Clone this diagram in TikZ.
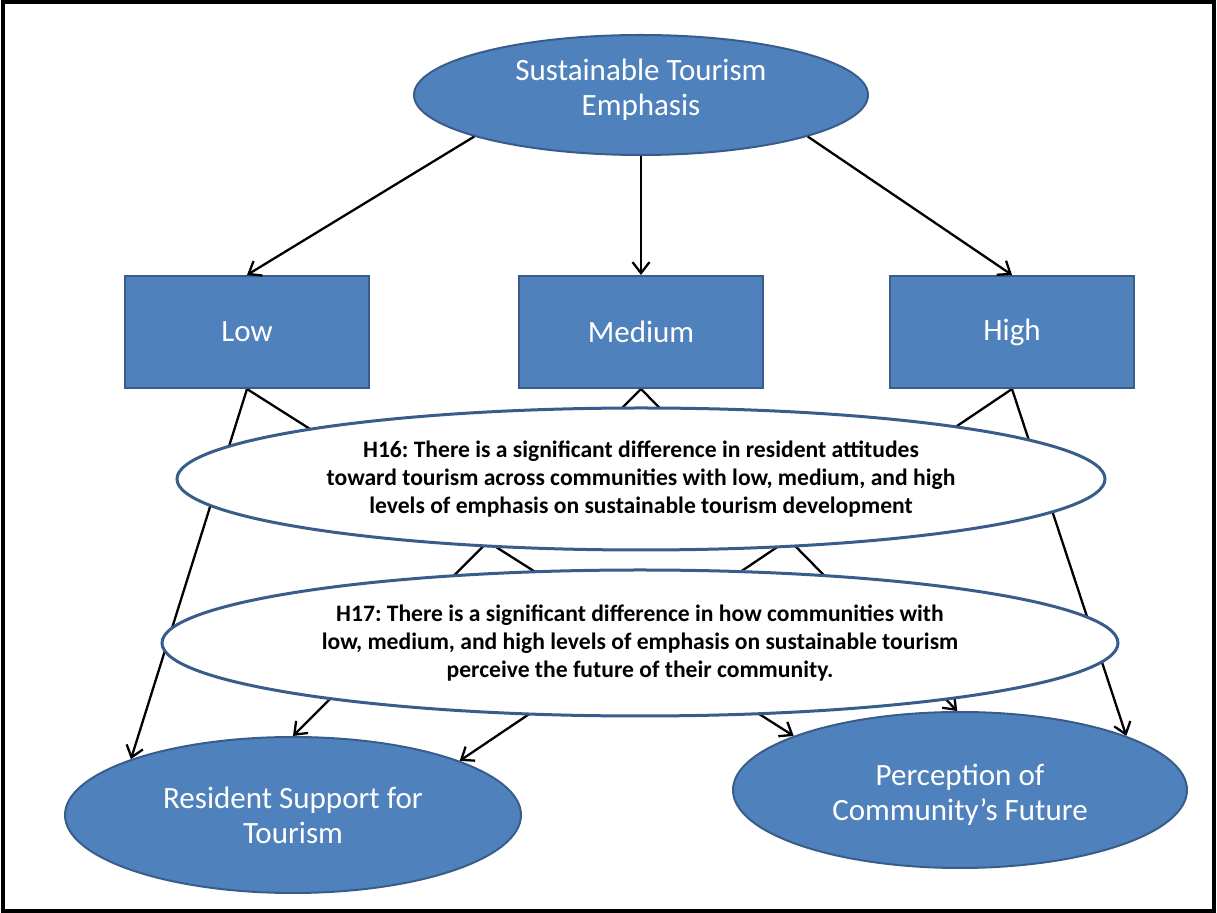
\documentclass[tikz,border=0pt]{standalone}
\usepackage{fontspec}
\setmainfont{Carlito}
\usetikzlibrary{shapes.geometric,arrows.meta}
\pgfdeclarelayer{back}
\pgfsetlayers{back,main}
\definecolor{accent}{RGB}{79,129,189}
\definecolor{accentdark}{RGB}{56,93,138}
\frenchspacing
\begin{document}
\begin{tikzpicture}[x=0.5pt,y=-0.5pt,
  bluetext/.style={text=white,align=center,font=\fontsize{15.5}{17.5}\selectfont},
  blueoval/.style={ellipse,draw=accentdark,line width=1pt,fill=accent,
    inner sep=0pt,bluetext},
  bluebox/.style={rectangle,draw=accentdark,line width=1pt,fill=accent,
    inner sep=0pt,minimum width=122pt,minimum height=56pt,bluetext},
  hypo/.style={ellipse,draw=accentdark,line width=1.5pt,fill=white,text=black,
    inner sep=0pt,align=center,font=\bfseries\fontsize{11.8}{14}\selectfont},
  link/.style={draw=black,line width=1.15pt},
  arr/.style={link,-{Straight Barb[length=5.5pt,width=8.5pt]}}
]
\useasboundingbox (0,0) rectangle (1217,913);
\draw[line width=1.6pt] (3,2) rectangle (1214,911);

% emphasis level
\node[blueoval,minimum width=227pt,minimum height=60pt] (top) at (641,95) {};
\node[bluetext] (toptext) at (641,90) {Sustainable Tourism\\Emphasis};
\node[bluebox] (low) at (247,332) {Low};
\node[bluebox] (med) at (641,332) {Medium};
\node[bluebox] (high) at (1012,332) {High};

% outcomes
\node[blueoval,minimum width=228pt,minimum height=78pt] (res) at (293,815)
  {Resident Support for\\Tourism};
\node[blueoval,minimum width=227pt,minimum height=78pt] (fut) at (960,790) {};
\node[bluetext] (futtext) at (960,795) {Perception of\\Community’s Future};

% hypotheses
\node[hypo,minimum width=464pt,minimum height=71pt] (h16) at (641,479)
  {H16: There is a significant difference in resident attitudes\\
   toward tourism across communities with low, medium, and high\\
   levels of emphasis on sustainable tourism development};
\node[hypo,minimum width=478pt,minimum height=73pt] (h17) at (640,643)
  {H17: There is a significant difference in how communities with\\
   low, medium, and high levels of emphasis on sustainable tourism\\
   perceive the future of their community.};

\draw[arr] (top.194) -- (low.north);
\draw[arr] (top.south) -- (med.north);
\draw[arr] (top.346) -- (high.north);

\begin{pgfonlayer}{back}
  \draw[arr] (low.south) -- (res.161);
  \draw[arr] (low.south) -- (fut.162);
  \draw[arr] (med.south) -- (res.north);
  \draw[arr] (med.south) -- (fut.92);
  \draw[arr] (high.south) -- (res.18);
  \draw[arr] (high.south) -- (fut.18);
\end{pgfonlayer}
\end{tikzpicture}
\end{document}
